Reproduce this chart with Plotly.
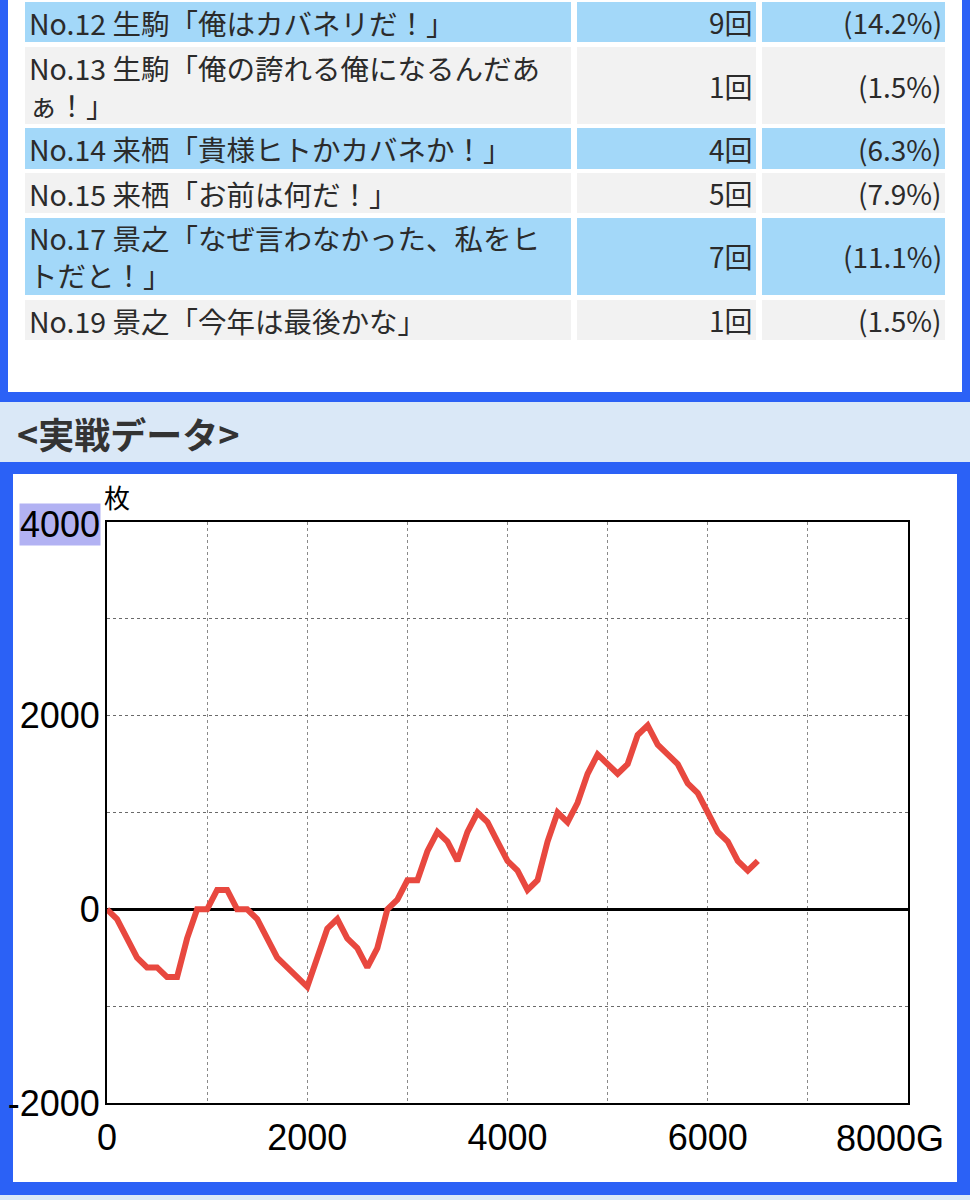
import plotly.graph_objects as go

# ---------------- data ----------------
games = [0, 100, 200, 300, 400, 500, 600, 700, 800, 900,
         1000, 1100, 1200, 1300, 1400, 1500, 1600, 1700, 1800, 1900,
         2000, 2100, 2200, 2300, 2400, 2500, 2600, 2700, 2800, 2900,
         3000, 3100, 3200, 3300, 3400, 3500, 3600, 3700, 3800, 3900,
         4000, 4100, 4200, 4300, 4400, 4500, 4600, 4700, 4800, 4900,
         5000, 5100, 5200, 5300, 5400, 5500, 5600, 5700, 5800, 5900,
         6000, 6100, 6200, 6300, 6400, 6500]
coins = [0, -100, -300, -500, -600, -600, -700, -700, -300, 0,
         0, 200, 200, 0, 0, -100, -300, -500, -600, -700,
         -800, -500, -200, -100, -300, -400, -600, -400, 0, 100,
         300, 300, 600, 800, 700, 500, 800, 1000, 900, 700,
         500, 400, 200, 300, 700, 1000, 900, 1100, 1400, 1600,
         1500, 1400, 1500, 1800, 1900, 1700, 1600, 1500, 1300, 1200,
         1000, 800, 700, 500, 400, 500]

table_labels = ["No.12 生駒「俺はカバネリだ！」",
                "No.13 生駒「俺の誇れる俺になるんだあ<br>ぁ！」",
                "No.14 来栖「貴様ヒトかカバネか！」",
                "No.15 来栖「お前は何だ！」",
                "No.17 景之「なぜ言わなかった、私をヒ<br>トだと！」",
                "No.19 景之「今年は最後かな」"]
table_counts = ["9回", "1回", "4回", "5回", "7回", "1回"]
table_percents = ["(14.2%)", "(1.5%)", "(6.3%)", "(7.9%)", "(11.1%)", "(1.5%)"]

y_tickvals = [-2000, 0, 2000]
y_ticktext = ["-2000", "0", "2000"]
y_top_label = "4000"
x_tickvals = [0, 2000, 4000, 6000]
x_ticktext = ["0", "2000", "4000", "6000"]
x_last_label = "8000G"
y_unit = "枚"
section_title = "<実戦データ>"

# ---------------- layout helpers (pixel -> paper) ----------------
W, H = 970, 1200
ML, MR, MT, MB = 107, 62, 522, 97
PW, PH = W - ML - MR, H - MT - MB


def X(px):
    return (px - ML) / PW


def Y(py):
    return (H - MB - py) / PH


BLUE = "#2B61F6"
ROW_BLUE = "#A3D8F9"
ROW_GRAY = "#F2F2F2"
BAND = "#DAE8F7"
TXT = "#2b2b2b"
CJK = "Noto Sans CJK JP"
NUM = "Liberation Sans, Arial, sans-serif"
NUMSIZE = 36

shapes = []
annotations = []


def rect(x0, y0, x1, y1, color, layer="below"):
    shapes.append(dict(type="rect", xref="paper", yref="paper",
                       x0=X(x0), x1=X(x1), y0=Y(y1), y1=Y(y0),
                       fillcolor=color, line=dict(width=0), layer=layer))


# page panels
rect(8, -5, 962, 392, "white")
rect(0, 402, 970, 462, BAND)
rect(13, 474, 957, 1182, "white")
rect(0, 1195, 970, 1205, BAND)

# table rows
row_bounds = [(2, 42), (47, 124), (128, 169), (173, 213), (218, 295), (300, 340)]
cols = [(25, 571), (577, 756), (762, 945)]
for i, (t, b) in enumerate(row_bounds):
    c = ROW_BLUE if i % 2 == 0 else ROW_GRAY
    for (l, r) in cols:
        rect(l, t, r, b, c)
    yc = Y((t + b) / 2)
    annotations.append(dict(xref="paper", yref="paper", x=X(27), y=yc,
                            text=table_labels[i], showarrow=False,
                            xanchor="left", yanchor="middle", align="left",
                            font=dict(family=CJK, size=28.5, color=TXT)))
    annotations.append(dict(xref="paper", yref="paper", x=X(755), y=yc,
                            text=table_counts[i], showarrow=False,
                            xanchor="right", yanchor="middle",
                            font=dict(family=CJK, size=28, color=TXT)))
    annotations.append(dict(xref="paper", yref="paper", x=X(944), y=yc,
                            text=table_percents[i], showarrow=False,
                            xanchor="right", yanchor="middle",
                            font=dict(family=CJK, size=28, color=TXT)))

# section title
annotations.append(dict(xref="paper", yref="paper", x=X(15), y=Y(433),
                        text="<b>" + section_title.replace("<", "&lt;").replace(">", "&gt;") + "</b>",
                        showarrow=False, xanchor="left", yanchor="middle",
                        font=dict(family=CJK, size=36, color="#333333")))

# unit label and highlighted top tick
annotations.append(dict(xref="paper", yref="paper", x=X(102), y=Y(496),
                        text=y_unit, showarrow=False, xanchor="left", yanchor="middle",
                        font=dict(family=CJK, size=26, color="black")))
annotations.append(dict(xref="paper", yref="paper", x=X(101), y=Y(524),
                        text=y_top_label, showarrow=False, xanchor="right", yanchor="middle",
                        bgcolor="#B2B2F3", borderpad=0,
                        font=dict(family=NUM, size=NUMSIZE, color="black")))
annotations.append(dict(xref="paper", yref="paper", x=X(946), y=Y(1138),
                        text=x_last_label, showarrow=False, xanchor="right", yanchor="middle",
                        font=dict(family=NUM, size=NUMSIZE, color="black")))

fig = go.Figure()
fig.add_trace(go.Scatter(x=games, y=coins, mode="lines",
                         line=dict(color="#E8483F", width=6),
                         hoverinfo="skip", showlegend=False))

fig.update_layout(
    width=W, height=H,
    margin=dict(l=ML, r=MR, t=MT, b=MB, pad=0, autoexpand=False),
    paper_bgcolor=BLUE, plot_bgcolor="white",
    shapes=shapes, annotations=annotations,
    showlegend=False,
    xaxis=dict(range=[0, 8000], tickvals=x_tickvals, ticktext=x_ticktext,
               automargin=False,
               showgrid=False, zeroline=False,
               showline=True, linecolor="black", linewidth=2, mirror=True,
               ticks="", ticklabelstandoff=2,
               tickfont=dict(family=NUM, size=NUMSIZE, color="black"),
               minor=dict(dtick=1000, tick0=0, showgrid=True, gridcolor="#8a8a8a",
                          griddash="dot", gridwidth=1)),
    yaxis=dict(range=[-2000, 4000], tickvals=y_tickvals, ticktext=y_ticktext,
               automargin=False,
               showgrid=False, zeroline=True, zerolinecolor="black", zerolinewidth=3,
               showline=True, linecolor="black", linewidth=2, mirror=True,
               ticks="", ticklabelstandoff=-2,
               tickfont=dict(family=NUM, size=NUMSIZE, color="black"),
               minor=dict(dtick=1000, tick0=0, showgrid=True, gridcolor="#6a6a6a",
                          griddash="dot", gridwidth=1)),
)

fig.write_html("out.html")
